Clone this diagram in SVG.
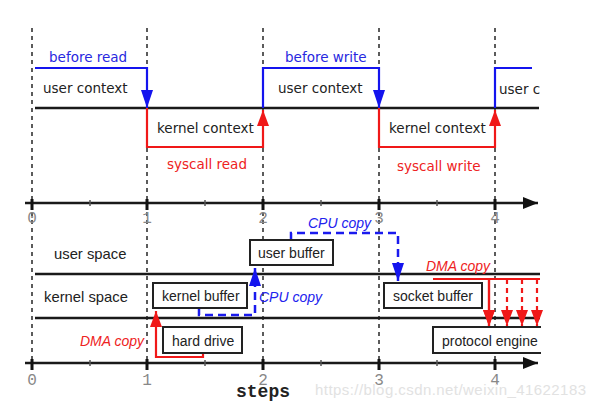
<svg xmlns="http://www.w3.org/2000/svg" width="596" height="409" viewBox="0 0 596 409">
<defs>
<style>
.lbl{font-family:"DejaVu Sans",sans-serif;font-size:13.5px;fill:#222}
.box rect,.box path{fill:#fff;stroke:#222;stroke-width:2}
.box text{font-family:"Liberation Sans",Arial,sans-serif;font-size:14px;fill:#222}
.sp{font-family:"Liberation Sans",Arial,sans-serif;font-size:14.8px;fill:#222}
.cpu{font-family:"Liberation Sans",Arial,sans-serif;font-size:14px;font-style:italic;fill:#2222ee}
.dma{font-family:"Liberation Sans",Arial,sans-serif;font-size:14px;font-style:italic;fill:#ee2222}
.num{font-family:"Liberation Mono","Courier New",monospace;font-size:16px;fill:#888;text-anchor:middle}
.dash{stroke:#333;stroke-width:1.6;stroke-dasharray:4 4;fill:none}
.blk{stroke:#1a1a1a;stroke-width:2.5;fill:none}
.bl{stroke:#1414ee;stroke-width:2.2;fill:none}
.rd{stroke:#f01818;stroke-width:2.2;fill:none}
.bld{stroke:#1a1aee;stroke-width:2.5;fill:none;stroke-dasharray:8 5}
.rdd{stroke:#f01818;stroke-width:2.2;fill:none;stroke-dasharray:5 4}
</style>
<marker id="ab" markerUnits="userSpaceOnUse" markerWidth="18" markerHeight="12" refX="18" refY="6" orient="auto" viewBox="0 0 18 12"><path d="M0,0 L18,6 L0,12 z" fill="#1414ee"/></marker>
<marker id="ar" markerUnits="userSpaceOnUse" markerWidth="16" markerHeight="12" refX="16" refY="6" orient="auto" viewBox="0 0 16 12"><path d="M0,0 L16,6 L0,12 z" fill="#f01818"/></marker>
<marker id="ak" markerUnits="userSpaceOnUse" markerWidth="15" markerHeight="12" refX="15" refY="6" orient="auto" viewBox="0 0 15 12"><path d="M0,0 L15,6 L0,12 z" fill="#111"/></marker>
</defs>
<rect width="596" height="409" fill="#fff"/>

<g id="grid">
<path class="dash" d="M32 28V363M147 28V363M263 28V363M379 28V363M495 28V363"/>
<path class="blk" d="M35 108H539M35 274H540M35 318H540"/>
</g>

<g id="axes">
<path class="blk" d="M25 203H538" marker-end="url(#ak)"/>
<path class="blk" d="M25 363H538" marker-end="url(#ak)"/>
<path stroke="#111" stroke-width="3" d="M32 199V210M147 199V210M263 199V210M379 199V210M495 199V210M32 359V370M147 359V370M263 359V370M379 359V370M495 359V370"/>
<path stroke="#555" stroke-width="1.5" d="M90 200V206M205 200V206M321 200V206M437 200V206M90 360V366M205 360V366M321 360V366M437 360V366"/>
<text class="num" x="32" y="223">0</text><text class="num" x="147" y="223">1</text><text class="num" x="263" y="223">2</text><text class="num" x="379" y="223">3</text><text class="num" x="495" y="223">4</text>
<text class="num" x="32" y="385">0</text><text class="num" x="147" y="385">1</text><text class="num" x="263" y="385">2</text><text class="num" x="379" y="385">3</text><text class="num" x="495" y="385">4</text>
<text x="236" y="397" font-family="Liberation Mono,monospace" font-weight="bold" font-size="18" fill="#222">steps</text>
</g>

<g id="connectors">
<path class="bl" d="M35 68H147V108" marker-end="url(#ab)"/>
<path class="rd" d="M147 108V147H263V110" marker-end="url(#ar)"/>
<path class="bl" d="M263 108V68H379V108" marker-end="url(#ab)"/>
<path class="rd" d="M379 108V147H495V110" marker-end="url(#ar)"/>
<path class="bl" d="M495 108V68H532"/>
<path class="rd" d="M203 353V357H156V311" marker-end="url(#ar)"/>
<path class="bld" d="M199 308V315H255V268" marker-end="url(#ab)"/>
<path class="bld" d="M291 240V233H398V281" marker-end="url(#ab)"/>
<path class="rd" d="M433 279H540M489 279V326" marker-end="url(#ar)"/>
<path class="rd" d="M489 279V326" marker-end="url(#ar)"/>
<path class="rdd" d="M507 279V326" marker-end="url(#ar)"/>
<path class="rdd" d="M522 279V326" marker-end="url(#ar)"/>
<path class="rdd" d="M537 279V326" marker-end="url(#ar)"/>
</g>

<g id="context-labels">
<text class="lbl" x="49" y="62" fill="#1414ee" style="fill:#2828e0">before read</text>
<text class="lbl" x="43" y="93">user context</text>
<text class="lbl" x="157" y="133">kernel context</text>
<text class="lbl" x="167" y="169" style="fill:#ee2222">syscall read</text>
<text class="lbl" x="285" y="62" style="fill:#2828e0">before write</text>
<text class="lbl" x="278" y="93">user context</text>
<text class="lbl" x="389" y="133">kernel context</text>
<text class="lbl" x="397" y="171" style="fill:#ee2222">syscall write</text>
<text class="lbl" x="499" y="94">user c</text>
</g>

<g id="space-labels">
<text class="sp" x="54" y="259">user space</text>
<text class="sp" x="44" y="302">kernel space</text>
<text class="cpu" x="259" y="302">CPU copy</text>
<text class="cpu" x="308" y="228">CPU copy</text>
<text class="dma" x="80" y="346">DMA copy</text>
<text class="dma" x="426" y="271">DMA copy</text>
</g>

<g id="user-buffer" class="box"><rect x="250" y="240" width="83" height="25"/><text x="258" y="258">user buffer</text></g>
<g id="kernel-buffer" class="box"><rect x="153" y="283" width="94" height="25"/><text x="162" y="301">kernel buffer</text></g>
<g id="hard-drive" class="box"><rect x="163" y="327" width="79" height="26"/><text x="172" y="346">hard drive</text></g>
<g id="socket-buffer" class="box"><rect x="384" y="283" width="98" height="25"/><text x="393" y="301">socket buffer</text></g>
<g id="protocol-engine" class="box"><path d="M541 327H433V353H541"/><text x="442" y="346">protocol engine</text></g>

<text x="315" y="395" font-family="Liberation Sans,Arial,sans-serif" font-size="15" fill="#e2e2e2" textLength="271">https://blog.csdn.net/weixin_41622183</text>
</svg>
